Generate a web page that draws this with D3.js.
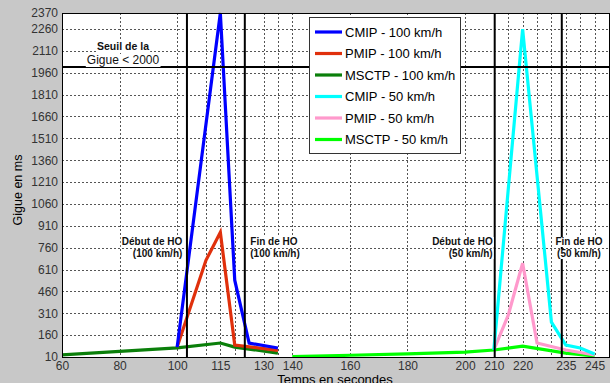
<!DOCTYPE html>
<html><head><meta charset="utf-8">
<script src="https://cdn.jsdelivr.net/npm/d3@7"></script>
<style>
html,body{margin:0;padding:0;background:#c8c8c8;}
svg{display:block;font-family:"Liberation Sans",Arial,sans-serif;}
</style></head>
<body>
<svg id="chart" width="610" height="383"></svg>
<script>
// ---- data ----
const xGridValues = [60,80,100,110,115,120,130,135,140,160,180,200,210,215,220,225,230,235,240,245];
const xTickLabels = [60,80,100,115,130,140,160,180,200,210,220,235,245];
const yTicks = [10,160,310,460,610,760,910,1060,1210,1360,1510,1660,1810,1960,2110,2260,2370];

const cmip100T = [100,115,120,125,135];
const cmip100V = [78,2370,537,105,72];
const pmip100T = [100,110,115,120,135];
const pmip100V = [78,673,865,92,55];
const msctp100T = [60,80,100,115,120,135];
const msctp100V = [25,48,72,106,78,37];

const cmip50T = [210,220,230,235,240,245];
const cmip50V = [58,2260,249,92,72,30];
const pmip50T = [210,215,220,225,235,245];
const pmip50V = [58,297,653,106,58,24];
const msctp50T = [140,160,180,200,210,220,235,245];
const msctp50V = [12,22,32,44,58,85,37,17];

const seriesNames = ["CMIP - 100 km/h","PMIP - 100 km/h","MSCTP - 100 km/h","CMIP - 50 km/h","PMIP - 50 km/h","MSCTP - 50 km/h"];
const seriesColors = ["#0000ff","#e0300c","#0a7f0a","#00ffff","#ff99cc","#00ff00"];

const threshold = 2000;
const hoLines = [103.4,123.5,210.3,233.6];

// ---- layout ----
const svg = d3.select("#chart");
const L = 62, R = 609, T = 13, B = 357;
const x = d3.scaleLinear().domain([60,250]).range([L,R]);
const y = d3.scaleLinear().domain([10,2370]).range([B,T]);

svg.append("rect").attr("x",0).attr("y",0).attr("width",610).attr("height",383).attr("fill","#c8c8c8");
svg.append("rect").attr("x",L).attr("y",T).attr("width",R-L).attr("height",B-T).attr("fill","#fff");

svg.append("defs").append("clipPath").attr("id","clip")
  .append("rect").attr("x",L).attr("y",T-1).attr("width",R-L).attr("height",B-T+1);

// grid
const grid = svg.append("g").attr("stroke","#555").attr("stroke-width",1).attr("stroke-dasharray","2,2").attr("shape-rendering","crispEdges");
grid.selectAll("line.h").data(yTicks.slice(1,-1)).join("line")
  .attr("x1",L).attr("x2",R).attr("y1",d=>Math.round(y(d))+0.5).attr("y2",d=>Math.round(y(d))+0.5);
grid.selectAll("line.v").data(xGridValues.slice(1)).join("line")
  .attr("y1",T).attr("y2",B).attr("x1",d=>Math.round(x(d))+0.5).attr("x2",d=>Math.round(x(d))+0.5);

// axes
const yAxis = d3.axisLeft(y).tickValues(yTicks).tickFormat(d3.format("d")).tickSize(0).tickPadding(4);
const gy = svg.append("g").attr("transform",`translate(${L},0)`).call(yAxis);
const xAxis = d3.axisBottom(x).tickValues(xTickLabels).tickFormat(d3.format("d")).tickSize(0).tickPadding(4);
const gx = svg.append("g").attr("transform",`translate(0,${B})`).call(xAxis);
[gy,gx].forEach(g=>{
  g.select(".domain").remove();
  g.selectAll("text").attr("font-size",12).attr("fill","#333").attr("font-family","Liberation Sans, Arial, sans-serif");
});

// series
const line = d3.line().x(d=>x(d[0])).y(d=>y(d[1]));
const all = [
  [cmip100T,cmip100V],[pmip100T,pmip100V],[msctp100T,msctp100V],
  [cmip50T,cmip50V],[pmip50T,pmip50V],[msctp50T,msctp50V]
];
const order = [2,5,4,1,3,0];
const sg = svg.append("g").attr("clip-path","url(#clip)");
order.forEach(i=>{
  const pts = all[i][0].map((t,k)=>[t,all[i][1][k]]);
  sg.append("path").attr("d",line(pts)).attr("fill","none")
    .attr("stroke",seriesColors[i]).attr("stroke-width",3.2).attr("stroke-linejoin","miter");
});

// reference lines
const ref = svg.append("g").attr("stroke","#000").attr("stroke-width",2);
ref.append("line").attr("x1",L).attr("x2",R).attr("y1",y(threshold)).attr("y2",y(threshold));
ref.selectAll("line.v").data(hoLines).join("line")
  .attr("x1",d=>x(d)).attr("x2",d=>x(d)).attr("y1",T).attr("y2",B);

// frame
svg.append("rect").attr("x",L+0.5).attr("y",T+0.5).attr("width",R-L).attr("height",B-T)
  .attr("fill","none").attr("stroke","#000").attr("stroke-width",1);

// annotations (with white backing like the original text boxes)
const ann = svg.append("g");
function label(px, py, anchor, size, weight, txt){
  const g = ann.append("g");
  const bg = g.append("rect").attr("fill","#fff");
  const t = g.append("text").attr("x",px).attr("y",py).attr("text-anchor",anchor)
    .attr("font-size",size).attr("font-weight",weight).attr("fill","#111").text(txt);
  const bb = t.node().getBBox();
  bg.attr("x",bb.x-1).attr("y",bb.y+1).attr("width",bb.width+2).attr("height",bb.height-1);
}
label(123,50,"middle",10.5,"bold","Seuil de la");
label(123,64,"middle",12,"normal","Gigue < 2000");

function twoLine(px, anchor, l1, l2){
  label(px,245,anchor,10,"bold",l1);
  label(px,257,anchor,10,"bold",l2);
}
twoLine(x(101.8),"end","Début de HO","(100 km/h)");
twoLine(x(125.4),"start","Fin de HO","(100 km/h)");
twoLine(x(209.6),"end","Début de HO","(50 km/h)");
twoLine(579,"middle","Fin de HO","(50 km/h)");

// axis titles
svg.append("text").attr("x",335).attr("y",384).attr("text-anchor","middle").attr("font-size",13).attr("fill","#000").text("Temps en secondes");
svg.append("text").attr("transform","translate(22,190) rotate(-90)").attr("text-anchor","middle").attr("font-size",12.5).attr("fill","#000").text("Gigue en ms");

// legend
const lg = svg.append("g");
lg.append("rect").attr("x",309.5).attr("y",17.5).attr("width",151).attr("height",136).attr("fill","#fff").attr("stroke","#333").attr("stroke-width",1);
seriesNames.forEach((n,i)=>{
  const yy = 32 + i*21.5;
  lg.append("line").attr("x1",315).attr("x2",342).attr("y1",yy).attr("y2",yy).attr("stroke",seriesColors[i]).attr("stroke-width",3.2);
  lg.append("text").attr("x",345).attr("y",yy+4.5).attr("font-size",13).attr("fill","#000").text(n);
});
</script>
</body></html>
